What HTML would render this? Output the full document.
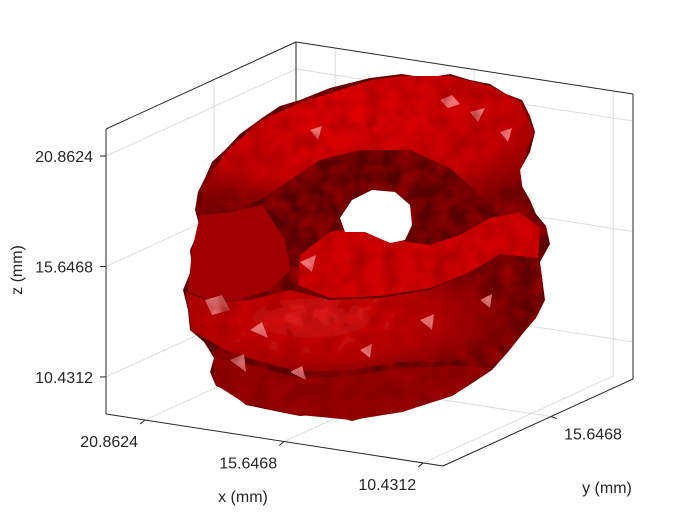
<!DOCTYPE html>
<html><head><meta charset="utf-8"><style>
body{margin:0;background:#fff}
svg{display:block;font-family:"Liberation Sans",sans-serif}
</style></head><body>
<svg id="c" width="700" height="525" viewBox="0 0 700 525">
<defs>
<radialGradient id="gTop" cx="0.45" cy="0.3" r="0.7">
<stop offset="0" stop-color="#e00000"/><stop offset="0.7" stop-color="#c40000"/><stop offset="1" stop-color="#700000"/>
</radialGradient>
<radialGradient id="gLow" cx="0.35" cy="0.55" r="0.6">
<stop offset="0" stop-color="#e02020"/><stop offset="0.6" stop-color="#b00000"/><stop offset="1" stop-color="#600000"/>
</radialGradient>
<filter id="tex" x="0" y="0" width="1" height="1">
<feTurbulence type="fractalNoise" baseFrequency="0.06" numOctaves="2" seed="4" result="n"/>
<feColorMatrix in="n" type="matrix" values="0 0 0 0 0.35  0 0 0 0 0  0 0 0 0 0  0 0 0 1.6 -0.55" result="d"/>
<feComposite in="d" in2="SourceGraphic" operator="in" result="dm"/>
<feMerge><feMergeNode in="SourceGraphic"/><feMergeNode in="dm"/></feMerge>
</filter>
</defs>
<g id="grid"></g>
<g id="box"></g>
<g id="surf" filter="url(#tex)">
<path fill="#5a0000" d="M370,78 L330,88 L300,100 L280,106 L262,118 L240,134 L225,150 L212,162 L205,178 L198,192 L195,210 L200,228 L190,250 L192,268 L183,290 L188,310 L190,330 L204,342 L214,358 L210,372 L216,386 L230,392 L246,405 L270,410 L300,416 L326,414 L352,421 L378,414 L402,412 L430,402 L452,396 L474,382 L492,370 L508,352 L524,332 L536,318 L545,300 L538,280 L540,262 L550,244 L546,226 L536,214 L530,200 L522,186 L520,170 L530,152 L535,132 L530,116 L522,100 L506,94 L490,84 L470,80 L450,74 L426,78 L402,74 Z"/>
<path fill="url(#gTop)" d="M372,80 L302,102 L262,120 L226,152 L207,180 L200,215 L230,210 L260,200 L290,180 L320,160 L360,150 L410,150 L450,168 L480,195 L500,215 L525,205 L520,170 L534,132 L521,102 L490,86 L450,76 L402,76 Z"/>
<path fill="#a00000" d="M200,215 L232,212 L262,205 L285,240 L290,270 L270,290 L240,300 L210,300 L188,292 L192,250 Z"/>
<path fill="url(#gLow)" d="M186,292 L212,302 L250,300 L290,290 L330,300 L380,298 L430,290 L470,272 L500,252 L540,262 L545,300 L524,330 L490,355 L450,362 L400,362 L350,370 L300,372 L255,360 L225,350 L192,330 Z"/>
<path fill="#8a0000" d="M214,358 L250,365 L300,378 L350,376 L400,368 L455,366 L492,368 L452,396 L402,412 L352,420 L300,415 L246,404 L216,385 Z"/>
<path fill="#d00000" d="M300,255 L330,232 L360,228 L395,240 L430,245 L460,235 L490,218 L520,212 L540,228 L538,258 L500,254 L470,272 L430,288 L380,296 L330,298 L298,285 Z"/>
<g fill="#ff9a9a" opacity="0.75">
<polygon points="440,100 452,95 460,104 448,108"/><polygon points="310,130 322,126 318,140"/><polygon points="470,112 485,108 478,122"/>
<polygon points="205,300 222,295 230,310 212,315"/><polygon points="250,330 262,322 268,338"/><polygon points="300,262 316,255 312,272"/>
<polygon points="420,320 434,314 432,330"/><polygon points="290,372 302,366 306,380"/><polygon points="480,300 492,294 490,308"/>
<polygon points="230,360 244,354 246,372"/><polygon points="360,350 372,344 370,358"/><polygon points="500,132 512,128 508,142"/>
</g>
</g>
<path fill="#ffffff" d="M340,218 L352,200 L372,190 L395,192 L410,205 L412,225 L405,240 L390,243 L365,232 L345,232 Z"/>
<g id="ticks"></g>
<text x="243" y="502" font-size="16" fill="#262626" text-anchor="middle">x (mm)</text>
<text x="607" y="493" font-size="16" fill="#262626" text-anchor="middle">y (mm)</text>
<text x="22" y="270" font-size="16" fill="#262626" text-anchor="middle" transform="rotate(-90 22 270)">z (mm)</text>
</svg>
<script>
const xTicks=[20.8624,15.6468,10.4312];
const yTicks=[15.6468];
const zTicks=[10.4312,15.6468,20.8624];
const xLim=[22.33,9.69];
const yLim=[8.2,21.3];
const zLim=[8.68,22.14];
const O=[106,414],A=[337,52],B=[190,-87],C=[0,-285];
const NS="http://www.w3.org/2000/svg";
function ax(v){return (v-xLim[0])/(xLim[1]-xLim[0]);}
function ay(v){return (v-yLim[0])/(yLim[1]-yLim[0]);}
function az(v){return (v-zLim[0])/(zLim[1]-zLim[0]);}
function P(a,b,c){return [O[0]+a*A[0]+b*B[0]+c*C[0],O[1]+a*A[1]+b*B[1]+c*C[1]];}
function line(g,p,q,col,w,name){const l=document.createElementNS(NS,'line');
l.setAttribute('x1',p[0]);l.setAttribute('y1',p[1]);l.setAttribute('x2',q[0]);l.setAttribute('y2',q[1]);
l.setAttribute('stroke',col);l.setAttribute('stroke-width',w);


g.appendChild(l);}
function txt(g,x,y,s,anchor,name){const t=document.createElementNS(NS,'text');
t.setAttribute('x',x);t.setAttribute('y',y);t.setAttribute('font-size','16');t.setAttribute('fill','#262626');t.setAttribute('text-anchor',anchor);
t.textContent=s;


g.appendChild(t);}
const G=document.getElementById('grid'),BX=document.getElementById('box'),T=document.getElementById('ticks');
const gc='#dcdcdc';
zTicks.forEach(z=>{const c=az(z);line(G,P(0,0,c),P(0,1,c),gc,1,'z-grid-line');line(G,P(0,1,c),P(1,1,c),gc,1,'z-grid-line');});
xTicks.forEach(x=>{const a=ax(x);line(G,P(a,0,0),P(a,1,0),gc,1,'x-grid-line');line(G,P(a,1,0),P(a,1,1),gc,1,'x-grid-line');});
yTicks.forEach(y=>{const b=ay(y);line(G,P(0,b,0),P(1,b,0),gc,1,'y-grid-line');line(G,P(0,b,0),P(0,b,1),gc,1,'y-grid-line');});
const k='#262626';
line(BX,P(0,0,0),P(0,0,1),k,1,'z-axis-line');line(BX,P(0,0,1),P(0,1,1),k,1,'box-edge');
line(BX,P(0,1,1),P(1,1,1),k,1,'box-edge');line(BX,P(1,1,1),P(1,1,0),k,1,'box-edge');
line(BX,P(0,1,0),P(0,1,1),k,1,'box-edge');
line(BX,P(0,0,0),P(1,0,0),k,1,'x-axis-line');line(BX,P(1,0,0),P(1,1,0),k,1,'y-axis-line');
zTicks.forEach(z=>{const p=P(0,0,az(z));line(T,[p[0]-6,p[1]],p,k,1,'z-tick');txt(T,p[0]-13,p[1]+6,z.toFixed(4),'end','z-tick-label');});
xTicks.forEach(x=>{const p=P(ax(x),0,0);line(T,p,[p[0]-5,p[1]+4],k,1,'x-tick');txt(T,p[0]-36,p[1]+27,x.toFixed(4),'middle','x-tick-label');});
yTicks.forEach(y=>{const p=P(1,ay(y),0);line(T,p,[p[0]+6,p[1]+2],k,1,'y-tick');txt(T,p[0]+42,p[1]+23,y.toFixed(4),'middle','y-tick-label');});
</script>
</body></html>
